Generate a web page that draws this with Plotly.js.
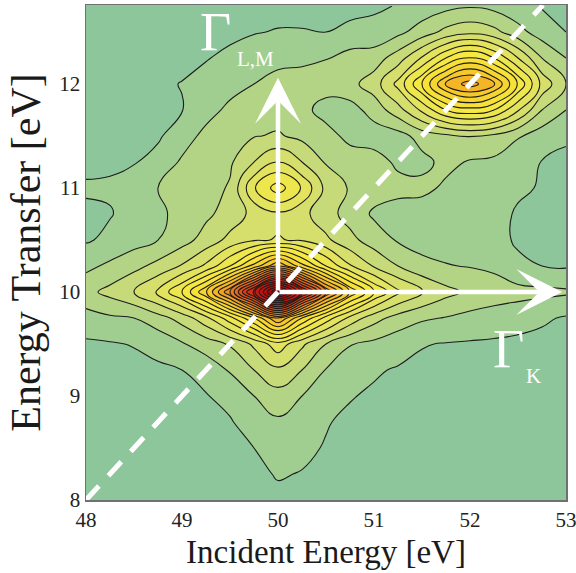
<!DOCTYPE html>
<html>
<head>
<meta charset="utf-8">
<script src="https://cdn.plot.ly/plotly-3.0.1.min.js"></script>
<style>
html,body{margin:0;padding:0;background:#ffffff;}
#chart{width:576px;height:573px;}
</style>
</head>
<body>
<div id="chart"></div>
<script>
// Incident energy grid (eV) – x
const incidentEnergy = [48,48.25,48.5,48.75,49,49.25,49.5,49.75,50,50.25,50.5,50.75,51,51.25,51.5,51.75,52,52.25,52.5,52.75,53];
// Energy transfer grid (eV) – y
const energyTransfer = [8,8.25,8.5,8.75,9,9.25,9.5,9.75,10,10.25,10.5,10.75,11,11.25,11.5,11.75,12,12.25,12.5,12.75];
// Intensity, in contour-level units, one row per energy transfer value
const intensity = [
 [.40,.42,.44,.47,.50,.55,.62,.72,.85,.80,.70,.62,.56,.52,.49,.47,.46,.45,.44,.43,.42],
 [.42,.44,.46,.50,.54,.60,.70,.85,1.05,.97,.82,.70,.62,.57,.53,.50,.49,.48,.47,.46,.45],
 [.45,.47,.50,.53,.58,.65,.78,1.0,1.45,1.15,.95,.78,.68,.62,.58,.55,.53,.52,.50,.49,.48],
 [.48,.50,.53,.58,.65,.75,.93,1.4,1.84,1.45,1.05,.85,.75,.68,.63,.60,.58,.56,.55,.53,.52],
 [.52,.55,.60,.68,.80,.95,1.25,2.0,2.6,2.0,1.3,1.05,.88,.78,.70,.66,.63,.60,.58,.56,.55],
 [.60,.65,.72,.85,1.0,1.4,2.1,3.0,3.8,3.0,1.95,1.45,1.1,.92,.80,.75,.70,.65,.62,.60,.58],
 [.85,.92,1.05,1.3,1.9,2.45,3.1,4.2,5.6,4.2,3.0,2.05,1.75,1.4,1.05,.95,.90,.85,.78,.72,.68],
 [1.6,1.85,2.0,2.6,3.4,4.7,6.6,9.0,12.2,9.0,6.6,4.7,3.4,2.6,2.15,1.95,1.7,1.55,1.4,1.15,.90],
 [2.7,3.3,4.0,5.2,7.0,9.9,14.0,19.8,25.5,19.8,14.0,9.9,7.0,5.2,4.1,3.3,2.8,2.5,2.35,2.25,2.15],
 [1.75,2.2,2.7,3.3,4.1,5.2,7.0,9.4,12.0,9.4,7.0,5.1,3.9,3.0,2.3,2.05,1.95,1.8,1.15,1.0,.90],
 [.90,1.2,1.6,2.0,2.6,3.4,4.3,4.9,5.05,4.9,4.2,3.3,2.5,1.9,1.6,1.6,1.75,1.25,.90,.75,.65],
 [.85,.95,1.3,1.8,2.3,2.8,3.4,4.3,4.8,4.3,3.4,2.6,1.85,1.5,1.4,1.5,1.7,1.45,.85,.70,.62],
 [1.1,1.1,1.35,2.0,2.3,2.6,3.1,5.9,7.5,5.9,3.7,2.9,2.45,2.35,2.3,1.8,1.75,1.65,1.2,.90,.75],
 [.80,.88,.95,1.3,2.15,2.5,2.85,4.0,5.0,4.0,2.9,2.55,2.45,1.8,1.7,2.3,1.9,1.8,1.35,.97,.85],
 [.65,.72,.80,.88,1.5,2.3,2.6,2.95,3.1,2.75,2.4,1.7,1.5,1.6,2.4,2.75,3.05,2.75,2.1,1.45,1.1],
 [.58,.62,.70,.80,.97,1.6,2.25,2.45,2.6,2.3,1.6,1.6,2.4,3.6,5.2,7.0,7.6,7.0,5.1,3.0,2.0],
 [.55,.62,.75,.90,1.02,1.3,1.6,2.0,2.3,2.4,2.45,2.7,3.5,5.3,8.0,11.1,12.5,11.1,7.9,4.7,3.0],
 [.50,.55,.62,.72,.85,.95,1.2,1.5,1.75,1.8,1.95,2.4,2.5,3.5,5.1,7.0,8.2,7.0,5.0,3.0,2.0],
 [.45,.50,.55,.60,.65,.72,.80,.95,1.05,1.05,1.0,1.2,1.3,1.75,2.45,3.3,3.7,3.3,2.35,1.5,1.0],
 [.42,.45,.48,.50,.55,.58,.62,.66,.72,.70,.70,.75,.85,1.05,1.4,1.7,1.9,1.7,1.3,.95,.75]
];
const xTickValues = [48,49,50,51,52,53];
const yTickValues = [8,9,10,11,12];
// Raman (diagonal) line end points
const ramanX = [48,52.76];
const ramanY = [8,12.76];
// Arrow origin and tips
const arrowOrigin = [50,10];
const gammaKTip = [52.96,10];
const gammaLMTip = [50,12.06];
// Label anchors
const gammaKPos = [52.40,9.45];
const gammaKSubPos = [52.66,9.19];
const gammaLMPos = [49.35,12.50];
const gammaLMSubPos = [49.77,12.24];

const serif = 'Liberation Serif, Times New Roman, serif';

const colors = [
  [0.00,'#8dc69a'],
  [0.04,'#a0cd90'],
  [0.08,'#b3d485'],
  [0.12,'#c6da79'],
  [0.16,'#d6df6b'],
  [0.20,'#e3e35d'],
  [0.24,'#ede64d'],
  [0.28,'#f4e841'],
  [0.32,'#f7e136'],
  [0.40,'#f6c82a'],
  [0.48,'#f2a322'],
  [0.56,'#ea7a1e'],
  [0.64,'#e0521a'],
  [0.72,'#d42e14'],
  [0.80,'#c81a10'],
  [0.88,'#b80c0c'],
  [1.00,'#a00404']
];

const contourTrace = {
  type:'contour',
  x: incidentEnergy,
  y: energyTransfer,
  z: intensity,
  autocontour:false,
  contours:{start:1,end:25,size:1,coloring:'fill',showlines:true},
  line:{color:'#1c1c1c',width:1.1,smoothing:1.3},
  colorscale: colors,
  showscale:false,
  hoverinfo:'skip'
};

const ramanTrace = {
  type:'scatter', mode:'lines',
  x: ramanX, y: ramanY,
  line:{color:'#ffffff',width:5,dash:'19px,14px'},
  hoverinfo:'skip', showlegend:false
};

const arrowStyle = {xref:'x',yref:'y',axref:'x',ayref:'y',text:'',showarrow:true,
  arrowhead:3,arrowsize:1.7,arrowwidth:4.5,arrowcolor:'#ffffff',standoff:0,startstandoff:0};

const annotations = [
  Object.assign({x:gammaKTip[0],y:gammaKTip[1],ax:arrowOrigin[0],ay:arrowOrigin[1]},arrowStyle),
  Object.assign({x:gammaLMTip[0],y:gammaLMTip[1],ax:arrowOrigin[0],ay:arrowOrigin[1]},arrowStyle),
  {x:gammaKPos[0],y:gammaKPos[1],xref:'x',yref:'y',text:'Γ',showarrow:false,font:{family:serif,size:54,color:'#ffffff'}},
  {x:gammaKSubPos[0],y:gammaKSubPos[1],xref:'x',yref:'y',text:'K',showarrow:false,font:{family:serif,size:21,color:'#ffffff'}},
  {x:gammaLMPos[0],y:gammaLMPos[1],xref:'x',yref:'y',text:'Γ',showarrow:false,font:{family:serif,size:54,color:'#ffffff'}},
  {x:gammaLMSubPos[0],y:gammaLMSubPos[1],xref:'x',yref:'y',text:'L,M',showarrow:false,font:{family:serif,size:21,color:'#ffffff'}}
];

const layout = {
  width:576, height:573,
  margin:{l:86,r:10,t:5,b:73},
  paper_bgcolor:'#ffffff',
  plot_bgcolor:'#8dc69a',
  showlegend:false,
  font:{family:serif,color:'#1a1a1a'},
  xaxis:{
    range:[48,53], tickvals:xTickValues, ticktext:xTickValues.map(String),
    ticks:'', showgrid:false, zeroline:false, ticklabeloverflow:'allow',
    showline:true, mirror:true, linecolor:'#707070', linewidth:1.5,
    tickfont:{family:serif,size:21,color:'#222'},
    title:{text:'Incident Energy [eV]',font:{family:serif,size:33,color:'#1a1a1a'},standoff:9}
  },
  yaxis:{
    range:[8,12.76], tickvals:yTickValues, ticktext:yTickValues.map(String),
    ticks:'', showgrid:false, zeroline:false, ticklabeloverflow:'allow',
    showline:true, mirror:true, linecolor:'#707070', linewidth:1.5,
    tickfont:{family:serif,size:21,color:'#222'},
    title:{text:'Energy Transfer [eV]',font:{family:serif,size:42,color:'#1a1a1a'},standoff:5}
  },
  annotations: annotations
};

Plotly.newPlot('chart',[contourTrace,ramanTrace],layout,{displayModeBar:false,staticPlot:true});
</script>
</body>
</html>
